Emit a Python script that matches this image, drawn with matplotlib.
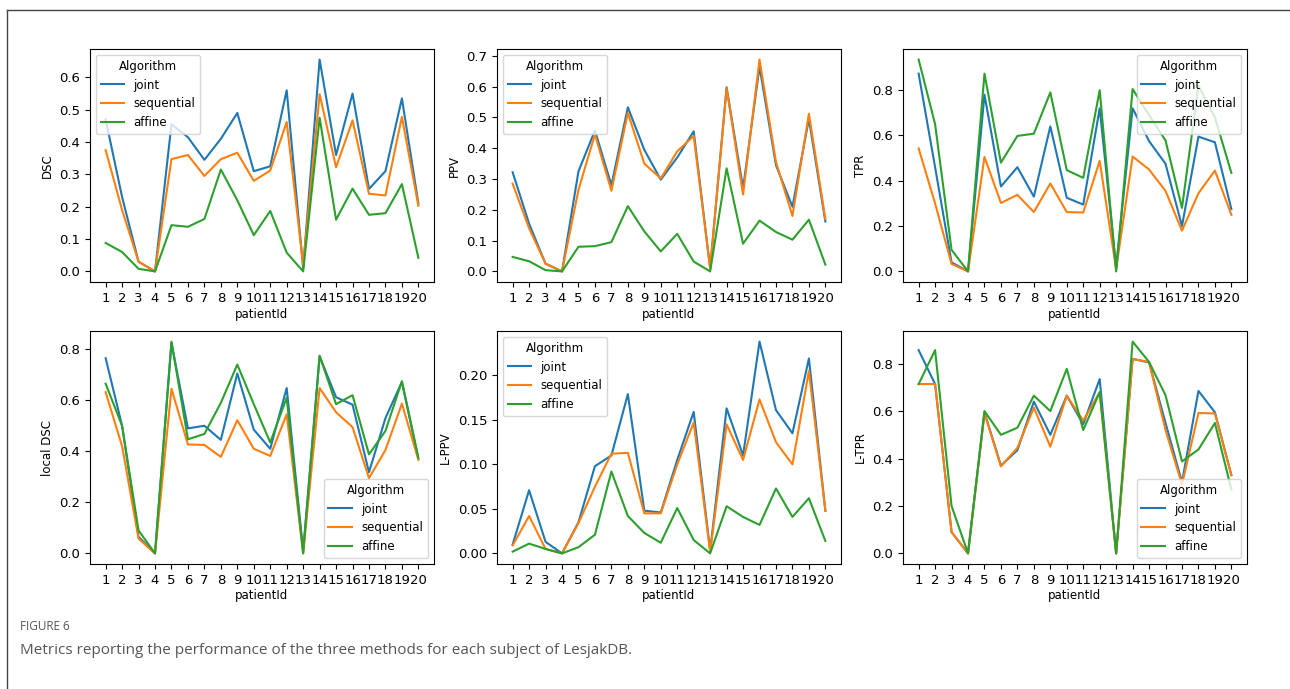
import numpy as np
from matplotlib import pyplot as plt
from matplotlib.lines import Line2D

patients = list(range(1, 21))
algorithms = ["joint", "sequential", "affine"]

dsc_joint = [0.47, 0.23, 0.03, 0.0, 0.455, 0.415, 0.345, 0.41, 0.49, 0.31,
             0.325, 0.56, 0.01, 0.655, 0.36, 0.55, 0.255, 0.31, 0.535, 0.21]
dsc_sequential = [0.375, 0.19, 0.03, 0.0, 0.347, 0.36, 0.295, 0.347, 0.367, 0.28,
                  0.312, 0.462, 0.02, 0.548, 0.322, 0.467, 0.24, 0.235, 0.478, 0.203]
dsc_affine = [0.088, 0.06, 0.008, 0.0, 0.143, 0.138, 0.162, 0.315, 0.22, 0.112,
              0.187, 0.058, 0.0, 0.475, 0.16, 0.256, 0.175, 0.18, 0.27, 0.042]

ppv_joint = [0.322, 0.155, 0.025, 0.0, 0.325, 0.458, 0.28, 0.533, 0.395, 0.298,
             0.37, 0.455, 0.01, 0.598, 0.27, 0.665, 0.345, 0.21, 0.495, 0.162]
ppv_sequential = [0.285, 0.14, 0.025, 0.0, 0.265, 0.445, 0.262, 0.515, 0.35, 0.302,
                  0.39, 0.44, 0.01, 0.595, 0.25, 0.688, 0.355, 0.18, 0.512, 0.17]
ppv_affine = [0.047, 0.033, 0.004, 0.0, 0.08, 0.082, 0.095, 0.212, 0.13, 0.065,
              0.122, 0.032, 0.0, 0.335, 0.09, 0.165, 0.128, 0.103, 0.168, 0.022]

tpr_joint = [0.873, 0.46, 0.04, 0.0, 0.78, 0.375, 0.46, 0.33, 0.64, 0.325,
             0.295, 0.72, 0.02, 0.72, 0.575, 0.475, 0.2, 0.595, 0.57, 0.275]
tpr_sequential = [0.543, 0.3, 0.033, 0.0, 0.505, 0.302, 0.338, 0.262, 0.388, 0.262,
                  0.26, 0.488, 0.01, 0.507, 0.45, 0.355, 0.18, 0.345, 0.445, 0.25]
tpr_affine = [0.935, 0.65, 0.095, 0.0, 0.873, 0.48, 0.598, 0.608, 0.79, 0.447,
              0.413, 0.8, 0.0, 0.805, 0.69, 0.578, 0.28, 0.82, 0.68, 0.435]

ldsc_joint = [0.765, 0.5, 0.065, 0.0, 0.825, 0.49, 0.5, 0.445, 0.705, 0.485,
              0.41, 0.648, 0.01, 0.772, 0.612, 0.583, 0.318, 0.53, 0.672, 0.37]
ldsc_sequential = [0.632, 0.42, 0.058, 0.0, 0.645, 0.427, 0.425, 0.378, 0.522, 0.41,
                   0.382, 0.545, 0.0, 0.648, 0.553, 0.495, 0.295, 0.405, 0.587, 0.367]
ldsc_affine = [0.665, 0.5, 0.09, 0.0, 0.83, 0.447, 0.468, 0.59, 0.74, 0.585,
               0.435, 0.61, 0.0, 0.775, 0.585, 0.62, 0.388, 0.48, 0.675, 0.375]

lppv_joint = [0.01, 0.071, 0.013, 0.0, 0.035, 0.098, 0.11, 0.179, 0.048, 0.046,
              0.105, 0.159, 0.003, 0.163, 0.11, 0.238, 0.161, 0.135, 0.219, 0.048]
lppv_sequential = [0.009, 0.042, 0.005, 0.0, 0.034, 0.075, 0.112, 0.113, 0.045, 0.045,
                   0.1, 0.147, 0.002, 0.145, 0.105, 0.173, 0.125, 0.1, 0.205, 0.048]
lppv_affine = [0.002, 0.011, 0.005, 0.0, 0.007, 0.021, 0.092, 0.042, 0.023, 0.012,
               0.051, 0.015, 0.0, 0.053, 0.041, 0.032, 0.073, 0.041, 0.062, 0.014]

ltpr_joint = [0.857, 0.714, 0.09, 0.0, 0.595, 0.37, 0.435, 0.64, 0.5, 0.665,
              0.545, 0.735, 0.0, 0.82, 0.805, 0.55, 0.3, 0.685, 0.595, 0.33]
ltpr_sequential = [0.714, 0.714, 0.09, 0.0, 0.59, 0.367, 0.445, 0.615, 0.45, 0.665,
                   0.56, 0.68, 0.0, 0.82, 0.807, 0.52, 0.29, 0.592, 0.59, 0.33]
ltpr_affine = [0.714, 0.857, 0.2, 0.0, 0.6, 0.5, 0.53, 0.665, 0.6, 0.778,
               0.52, 0.68, 0.0, 0.893, 0.807, 0.667, 0.388, 0.438, 0.55, 0.27]

panels = [
    ("DSC", [dsc_joint, dsc_sequential, dsc_affine], "upper left"),
    ("PPV", [ppv_joint, ppv_sequential, ppv_affine], "upper left"),
    ("TPR", [tpr_joint, tpr_sequential, tpr_affine], "upper right"),
    ("local DSC", [ldsc_joint, ldsc_sequential, ldsc_affine], "lower right"),
    ("L-PPV", [lppv_joint, lppv_sequential, lppv_affine], "upper left"),
    ("L-TPR", [ltpr_joint, ltpr_sequential, ltpr_affine], "lower right"),
]

W, H = 1290, 689
fig = plt.figure(figsize=(W / 100, H / 100), dpi=100)

lefts = [90, 497, 903]
tops = [49, 331]
aw, ah = 344, 233

for i, (label, series, loc) in enumerate(panels):
    r, c = divmod(i, 3)
    ax = fig.add_axes([lefts[c] / W, (H - tops[r] - ah) / H, aw / W, ah / H])
    for name, vals in zip(algorithms, series):
        ax.plot(patients, vals, label=name, lw=1.5)
    ax.set_xticks(patients)
    ax.tick_params(labelsize=9.5)
    ax.set_xlabel("patientId", fontsize=8.5, labelpad=2)
    ax.set_ylabel(label, fontsize=8.5)
    ax.legend(title="Algorithm", loc=loc, fontsize=8.5, title_fontsize=8.5)

# frame edges visible at top and left
fig.add_artist(Line2D([7 / W, 7 / W], [0, 1 - 10 / H], color="#444444", lw=1))
fig.add_artist(Line2D([7 / W, 1], [1 - 10 / H, 1 - 10 / H], color="#444444", lw=1))

fig.text(20 / W, 1 - 627 / H, "FIGURE 6", fontsize=8.5, color="#555555",
         family="Open Sans", va="center")
fig.text(20 / W, 1 - 651 / H,
         "Metrics reporting the performance of the three methods for each subject of LesjakDB.",
         fontsize=11, color="#555555", family="Open Sans", va="center")

fig.savefig("out.png", dpi=100)
